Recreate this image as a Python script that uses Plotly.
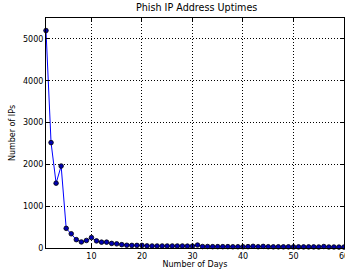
import plotly.graph_objects as go

days = list(range(1, 61))
ips = [5200, 2520, 1550, 1960, 470, 340, 200, 145, 180, 250,
       170, 140, 140, 110, 100, 80, 65, 62, 62, 62,
       50, 48, 48, 48, 48, 48, 48, 48, 45, 45,
       70, 35, 35, 32, 32, 32, 32, 30, 30, 30,
       32, 40, 30, 38, 30, 28, 28, 28, 28, 26,
       26, 26, 26, 26, 24, 35, 24, 24, 22, 22]

fig = go.Figure()
fig.add_trace(go.Scatter(
    x=days, y=ips, mode="lines+markers",
    line=dict(color="#0000ff", width=1),
    marker=dict(color="#0000b0", size=4.6, line=dict(color="black", width=0.8)),
    cliponaxis=False,
))

axis_common = dict(
    showline=True, linecolor="black", linewidth=1, mirror="allticks",
    ticks="inside", ticklen=4, tickcolor="black",
    showgrid=True, gridcolor="black", griddash="1px,2px", gridwidth=0.7,
    zeroline=False, ticklabeloverflow="allow",
    tickfont=dict(family="DejaVu Sans", size=8, color="black"),
)

fig.update_layout(
    width=345, height=269,
    margin=dict(l=46, r=1, t=18, b=21, autoexpand=False),
    paper_bgcolor="white", plot_bgcolor="white",
    showlegend=False,
    title=dict(text="Phish IP Address Uptimes", x=0.57, xanchor="center",
               y=0.984, yanchor="top",
               font=dict(family="DejaVu Sans", size=9.6, color="black")),
    xaxis=dict(range=[1, 60], tickvals=[10, 20, 30, 40, 50, 60],
               title=dict(text="Number of Days", standoff=2,
                          font=dict(family="DejaVu Sans", size=8, color="black")),
               **axis_common),
    yaxis=dict(range=[0, 5500], tickvals=[0, 1000, 2000, 3000, 4000, 5000],
               title=dict(text="Number of IPs", standoff=6,
                          font=dict(family="DejaVu Sans", size=8, color="black")),
               **axis_common),
)

fig.write_html("out.html", config={"displayModeBar": False},
               post_script="document.body.style.margin='0';document.body.style.padding='0';")
